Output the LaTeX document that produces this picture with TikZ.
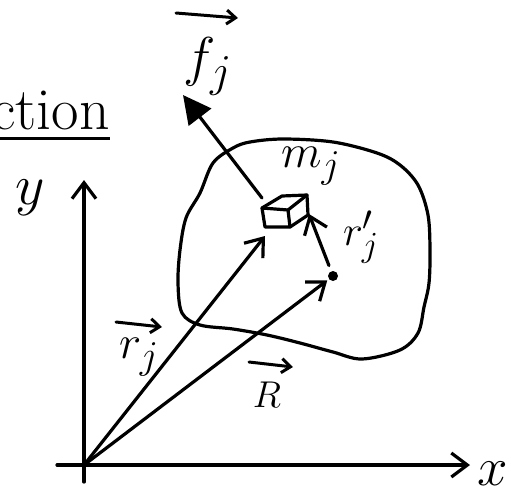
\documentclass[tikz,border=0pt]{standalone}
\usepackage{graphicx}
\usetikzlibrary{arrows.meta}
\newcommand{\bigtxt}[2]{\scalebox{#1}{\Huge #2}}
\begin{document}
\begin{tikzpicture}[x=1pt,y=-1pt,
  ink/.style={line width=3.2pt, line cap=round, line join=round},
  vecline/.style={ink, -{Straight Barb[length=16pt,width=24pt,line width=3.2pt]}},
  overarrow/.style={line width=3pt, line cap=round, -{Straight Barb[length=9pt,width=14pt,line width=3pt]}},
  lbl/.style={inner sep=0pt}]
\useasboundingbox (0,0) rectangle (526,493);
% heading fragment
\node[lbl, anchor=base east] (title) at (110,129) {\bigtxt{2.4}{ction}};
\draw[line width=3pt] (0,138) -- (title.east |- 0,138);
% axes
\coordinate (O) at (84,465);
\coordinate (xs) at (57,465);
\coordinate (xe) at (470,465);
\coordinate (yb) at (84,482);
\coordinate (yt) at (84,180);
\draw[vecline] (xs) -- (xe);
\draw[vecline] (yb) -- (yt);
\node[lbl] (xl) at (493,474) {\bigtxt{2.2}{$x$}};
\node[lbl] (yl) at (30,198) {\bigtxt{2.3}{$y$}};
% body
\draw[ink] plot[smooth cycle, tension=0.55] coordinates {
 (180,250) (178,283) (182,313) (200,325) (233,329) (267,335) (300,343)
 (333,352) (362,359) (400,350) (418,333) (424,307) (429,283) (430,250)
 (428,215) (418,185) (400,165) (377,153) (333,142) (283,139) (250,142)
 (233,148) (213,163) (200,193) (186,218)};
% particle box
\draw[ink] (262,208) -- (288,210) -- (290,227) -- (265,227) -- cycle;
\draw[ink] (262,208) -- (282,196) -- (307,195) -- (288,210);
\draw[ink] (307,195) -- (308,215) -- (290,227);
\coordinate (boxtl) at (262,198);
\coordinate (boxbot) at (265,236);
\coordinate (boxright) at (309,214);
\node[circle, fill, inner sep=0pt, minimum size=10pt] (cm) at (333,276) {};
% force
\coordinate (ft) at (183,95);
\draw[ink, -{Triangle[length=28pt,width=28pt]}] (boxtl) -- (ft);
% vectors
\draw[vecline] (O) -- (boxbot);
\draw[vecline, shorten >=2pt] (O) -- (cm);
\draw[vecline, shorten <=6pt] (cm) -- (boxright);
% labels
\node[lbl] (fl) at (208,66) {\bigtxt{2.2}{$f_j$}};
\draw[overarrow] (176,13) -- (238,18);
\node[lbl] (ml) at (311,166) {\bigtxt{1.9}{$m_j$}};
\node[lbl] (rpl) at (361,237) {\bigtxt{1.7}{$r'_j$}};
\node[lbl] (Rl) at (267,395) {\bigtxt{1.5}{$R$}};
\draw[overarrow] (249,362) -- (293,367);
\node[lbl] (rl) at (139,357) {\bigtxt{1.9}{$r_j$}};
\draw[overarrow] (116,322) -- (162,327);
\end{tikzpicture}
\end{document}
